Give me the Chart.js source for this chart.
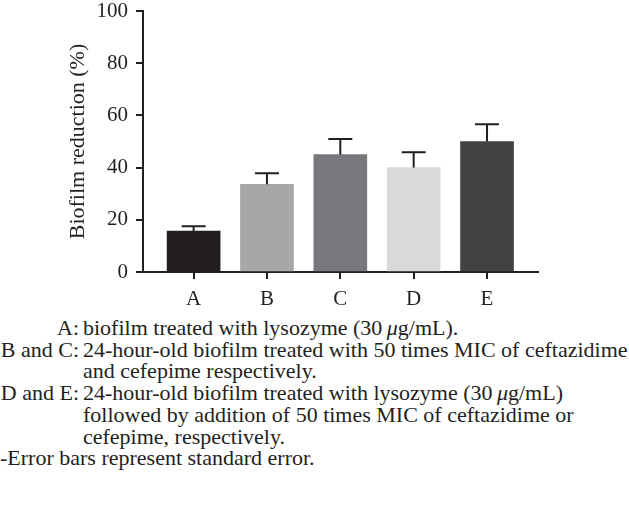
<!DOCTYPE html>
<html>
<head>
<meta charset="utf-8">
<script src="https://cdn.jsdelivr.net/npm/chart.js@4/dist/chart.umd.min.js"></script>
<style>
  body { margin: 0; background: #fff; }
  #wrap { position: relative; width: 629px; height: 518px; overflow: hidden; }
  #chart { position: absolute; left: 0; top: 0; }
  #notes {
    position: absolute; left: 0; top: 317px; width: 760px;
    font-family: "Liberation Serif", "DejaVu Serif", serif;
    font-size: 22px; line-height: 21.7px; color: #231f20; white-space: nowrap;
  }
  .row { display: flex; }
  .lab { width: 79px; text-align: right; margin-right: 4px; }
</style>
</head>
<body>
<div id="wrap">
  <canvas id="chart" width="629" height="310"></canvas>
  <div id="notes">
    <div class="row"><span class="lab">A:</span><span>biofilm treated with lysozyme (30&#8201;<i>μ</i>g/mL).</span></div>
    <div class="row"><span class="lab">B and C:</span><span>24-hour-old biofilm treated with 50 times MIC of ceftazidime</span></div>
    <div class="row"><span class="lab"></span><span>and cefepime respectively.</span></div>
    <div class="row"><span class="lab">D and E:</span><span>24-hour-old biofilm treated with lysozyme (30&#8201;<i>μ</i>g/mL)</span></div>
    <div class="row"><span class="lab"></span><span>followed by addition of 50 times MIC of ceftazidime or</span></div>
    <div class="row"><span class="lab"></span><span>cefepime, respectively.</span></div>
    <div>-Error bars represent standard error.</div>
  </div>
</div>
<script>
const categories = ["A", "B", "C", "D", "E"];
const reduction = [15.7, 33.6, 45.0, 40.0, 50.0];
const stdError = [1.8, 4.2, 6.0, 5.9, 6.6];
const barColors = ["#221e1f", "#a6a7a9", "#77787b", "#d8d9da", "#424244"];
const yTicks = [0, 20, 40, 60, 80, 100];

const ink = "#231f20";
const serif = "'Liberation Serif', 'DejaVu Serif', serif";

// one-sided (upward) error bars
const errorBars = {
    id: "errorBars",
    afterDatasetsDraw(chart) {
        const ctx = chart.ctx;
        const x = chart.scales.x;
        const y = chart.scales.y;
        ctx.save();
        ctx.strokeStyle = ink;
        ctx.lineWidth = 2;
        reduction.forEach((v, i) => {
            const px = x.getPixelForValue(i);
            const top = y.getPixelForValue(v + stdError[i]);
            const base = y.getPixelForValue(v);
            ctx.beginPath();
            ctx.moveTo(px, base);
            ctx.lineTo(px, top);
            ctx.moveTo(px - 12, top);
            ctx.lineTo(px + 12, top);
            ctx.stroke();
        });
        ctx.restore();
    }
};

new Chart(document.getElementById("chart"), {
    type: "bar",
    data: {
        datasets: [{
            data: reduction.map((v, i) => ({ x: i, y: v })),
            backgroundColor: barColors,
            borderWidth: 0,
            barThickness: 53,
        }],
    },
    options: {
        responsive: false,
        animation: false,
        layout: { padding: { left: 61, right: 91, top: 11, bottom: 0 } },
        plugins: { legend: { display: false }, tooltip: { enabled: false } },
        scales: {
            x: {
                type: "linear",
                offset: false,
                min: -0.69,
                max: 4.695,
                afterFit: (s) => { s.height = 38; s.paddingLeft = 0; s.paddingRight = 0; },
                border: { display: true, color: ink, width: 2 },
                grid: { offset: false, drawOnChartArea: false, tickLength: 7, lineWidth: 2, color: ink },
                ticks: {
                    stepSize: 1,
                    includeBounds: false,
                    autoSkip: false,
                    maxRotation: 0,
                    padding: 8,
                    color: ink,
                    font: { family: serif, size: 21 },
                    callback: (value) => categories[value] ?? "",
                },
            },
            y: {
                min: 0,
                max: 100,
                afterFit: (s) => { s.width = 82; s.paddingTop = 0; s.paddingBottom = 0; },
                afterBuildTicks: (s) => { s.ticks = yTicks.map((v) => ({ value: v })); },
                border: { display: true, color: ink, width: 2 },
                grid: { drawOnChartArea: false, tickLength: 7, lineWidth: 2, color: ink },
                ticks: {
                    padding: 8,
                    color: ink,
                    font: { family: serif, size: 21 },
                },
                title: {
                    display: true,
                    text: "Biofilm reduction (%)",
                    color: ink,
                    font: { family: serif, size: 22 },
                },
            },
        },
    },
    plugins: [errorBars],
});
</script>
</body>
</html>
